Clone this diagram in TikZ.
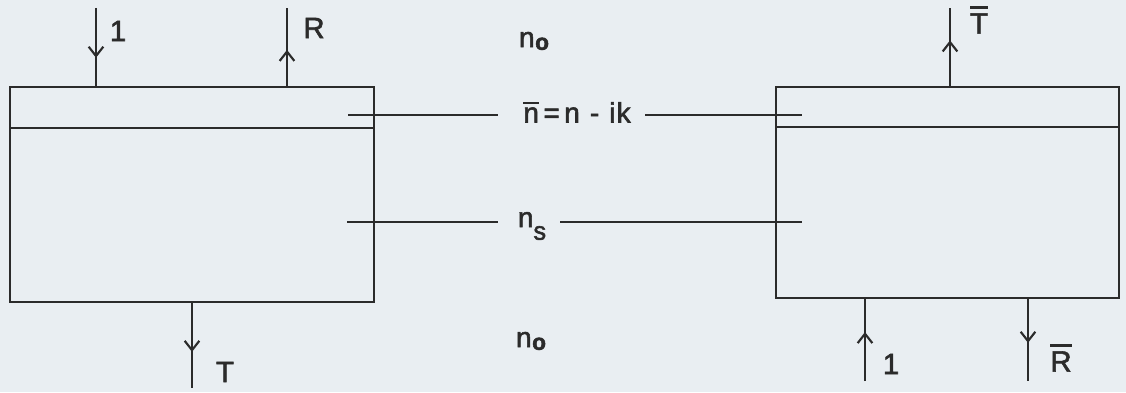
\documentclass[tikz,border=0pt]{standalone}
\usepackage{fontspec}
\setmainfont{Liberation Sans}[FakeBold=2]
\usetikzlibrary{arrows.meta,decorations.markings}
\definecolor{paper}{HTML}{E9EEF2}
\definecolor{ink}{HTML}{2B2B2B}
\newcommand\obar[2][0.12em]{\setbox0\hbox{#2}\rlap{\rule[\dimexpr\ht0+#1\relax]{\wd0}{0.09em}}\box0}
\tikzset{
  layerbox/.style={draw, rectangle, inner sep=0pt, outer sep=0pt},
  lab/.style={font=\fontsize{22}{24}\selectfont, inner sep=0pt, text=ink},
  idx/.style={font=\fontsize{21}{23}\selectfont, inner sep=0pt, text=ink},
  midarrow/.style={postaction={decorate}, decoration={markings,
     mark=at position #1 with {\arrow{Straight Barb[length=7pt,width=11pt,line width=1.6pt]}}}},
}
\begin{document}
\begin{tikzpicture}[x=0.75pt,y=-0.75pt, line width=1.6pt, draw=ink]
\fill[paper] (0,0) rectangle (1126,392);
\useasboundingbox (0,0) rectangle (1126,392);

% boxes
\node[layerbox, minimum width=273pt, minimum height=161.25pt] (L) at (192,194.5) {};
\node[layerbox, minimum width=257.25pt, minimum height=158.25pt] (Rb) at (947.5,192.5) {};
\draw (L.west |- 0,128) -- (L.east |- 0,128);
\draw (Rb.west |- 0,127) -- (Rb.east |- 0,127);

% interface labels
\node[idx] (no1) at (534,41) {n\kern0.02em\raisebox{-0.1em}{\fontsize{17}{17}\selectfont\bfseries o}};
\node[idx] (nbar) at (577,112) {\obar{n}\kern0.16em=\kern0.16em n\kern0.36em-\kern0.36em i\kern0.04em k};
\node[idx] (ns) at (532,226) {n\raisebox{-0.45em}{\fontsize{19}{19}\selectfont s}};
\node[idx] (no2) at (531,341) {n\kern0.02em\raisebox{-0.1em}{\fontsize{17}{17}\selectfont\bfseries o}};

% interface lines
\coordinate (a1) at (348,115); \coordinate (a2) at (498,115);
\coordinate (a3) at (645,115); \coordinate (a4) at (802,115);
\coordinate (b1) at (347,222); \coordinate (b2) at (498,222);
\coordinate (b3) at (560,222); \coordinate (b4) at (802,222);
\draw (a1) -- (a2); \draw (a3) -- (a4);
\draw (b1) -- (b2); \draw (b3) -- (b4);

% flux arrows, left
\coordinate (in1) at (96,8);
\coordinate (outR) at (287,8);
\coordinate (outT) at (192,388);
\draw[midarrow=0.63] (in1) -- (in1 |- L.north);
\draw[midarrow=0.47] (outR |- L.north) -- (outR);
\draw[midarrow=0.58] (outT |- L.south) -- (outT);
\node[lab] (l1) at (118,31) {1};
\node[lab] (lR) at (314,28) {R};
\node[lab] (lT) at (225,372) {T};

% flux arrows, right
\coordinate (outTb) at (950,8);
\coordinate (in2) at (865,381);
\coordinate (outRb) at (1028,381);
\draw[midarrow=0.59] (outTb |- Rb.north) -- (outTb);
\draw[midarrow=0.59] (in2) -- (in2 |- Rb.south);
\draw[midarrow=0.54] (outRb |- Rb.south) -- (outRb);
\node[lab] (lTb) at (979,20) {\obar[0.15em]{T}};
\node[lab] (l2) at (891,364) {1};
\node[lab] (lRb) at (1061,358) {\obar[0.15em]{R}};
\end{tikzpicture}
\end{document}
